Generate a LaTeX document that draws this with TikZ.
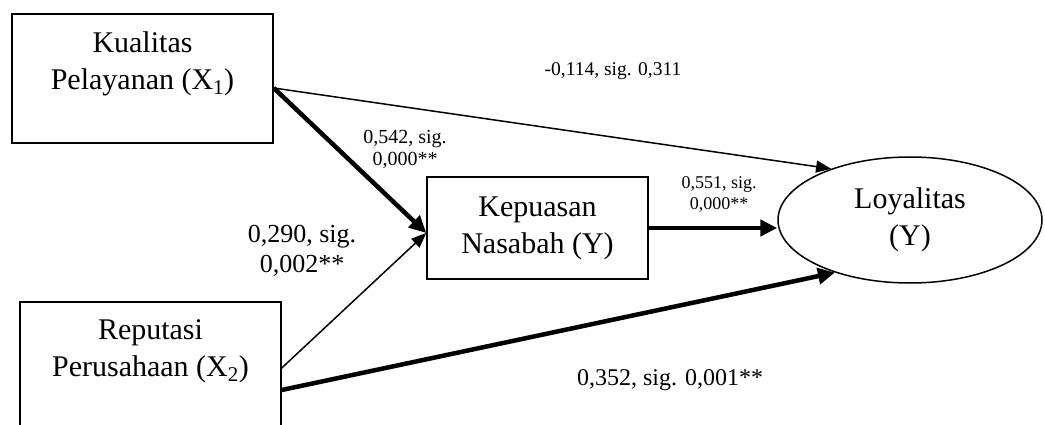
\documentclass[tikz,border=0pt]{standalone}
\usepackage{fontspec}
\setmainfont{Liberation Serif}
\usetikzlibrary{arrows.meta,shapes.geometric,calc}
\begin{document}
\begin{tikzpicture}[x=1pt,y=-1pt,
  box/.style={draw, line width=1.5pt, inner sep=0pt},
  big/.style={font=\fontsize{30}{37}\selectfont, align=center},
  lbl/.style={align=center, inner sep=0pt},
  thinarrow/.style={line width=1.5pt, -{Triangle[length=15pt,width=12pt]}},
  thickarrow/.style={line width=4.5pt, -{Triangle[length=17pt,width=16pt]}},
]
\clip (0,0) rectangle (1045,425);
% boxes
\node[box, minimum width=261pt, minimum height=129pt] (x1) at (142.5,78.5) {};
\node[big, anchor=north, inner sep=0pt] (x1t) at ([yshift=-18pt]x1.north) {Kualitas\\Pelayanan (X\textsubscript{1})};
\node[box, minimum width=261pt, minimum height=129pt] (x2) at (150.5,366.5) {};
\node[big, anchor=north, inner sep=0pt] (x2t) at ([yshift=-18pt]x2.north) {Reputasi\\Perusahaan (X\textsubscript{2})};
\node[box, big, minimum width=221pt, minimum height=102pt] (kep) at (537.5,228) {Kepuasan\\Nasabah (Y)};
\node[draw, line width=1.5pt, ellipse, big, minimum width=264pt, minimum height=126pt, inner sep=0pt] (ly) at (910,220) {Loyalitas\\(Y)};
% ports
\coordinate (p1) at ([yshift=-9.5pt]x1.east);
\coordinate (p2) at ([yshift=-1.5pt]x2.east);
\coordinate (p3) at ([yshift=-23.5pt]x2.east);
\coordinate (k1) at ([yshift=-5pt]kep.west);
% connectors
\draw[thickarrow] (p1) -- (k1);
\draw[thinarrow] (p1) -- (ly.147);
\draw[thinarrow] (p2) -- (k1);
\draw[thickarrow] (p3) -- (ly.215);
\draw[thickarrow] (kep.east) -- (kep.east -| ly.west);
% labels
\node[lbl, font=\fontsize{19.5}{22}\selectfont] (l1) at (613,71) {-0,114, sig. 0,311};
\node[lbl, font=\fontsize{20}{22}\selectfont] (l2) at (405,149) {0,542, sig.\\0,000**};
\node[lbl, font=\fontsize{26}{30}\selectfont] (l3) at (302,251) {0,290, sig.\\0,002**};
\node[lbl, font=\fontsize{18}{21}\selectfont] (l4) at (719,194) {0,551, sig.\\0,000**};
\node[lbl, font=\fontsize{24}{28}\selectfont] (l5) at (670,380) {0,352, sig. 0,001**};
\end{tikzpicture}
\end{document}
